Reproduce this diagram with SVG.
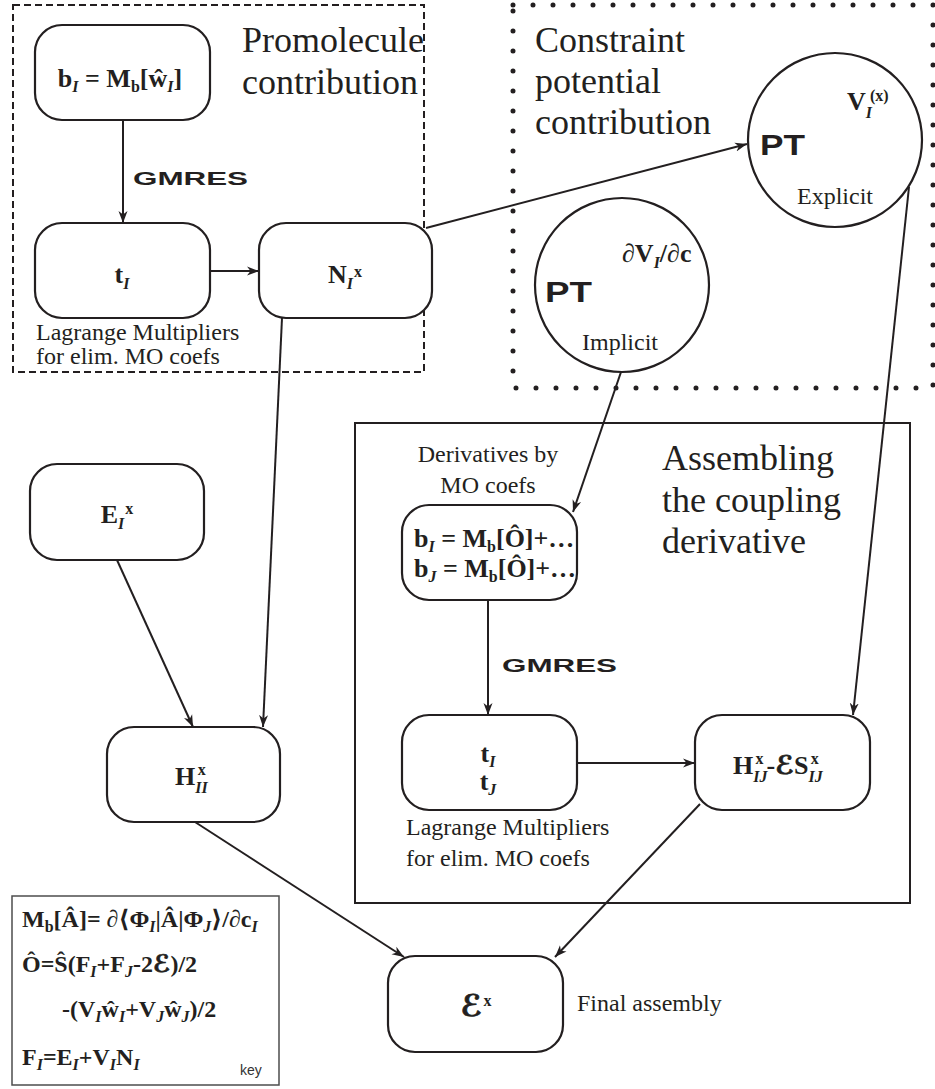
<svg xmlns="http://www.w3.org/2000/svg" width="935" height="1089" viewBox="0 0 935 1089">
<style>
  .bg { fill: #ffffff; }
  .node { fill: #ffffff; stroke: #231f20; stroke-width: 2.2; }
  .edge { fill: none; stroke: #231f20; stroke-width: 2; marker-end: url(#ah); }
  .ser { font-family: "Liberation Serif", "DejaVu Serif", serif; fill: #231f20; }
  .big { font-size: 36px; }
  .small { font-size: 24px; }
  .m { font-family: "Liberation Serif", "DejaVu Serif", serif; font-weight: bold; font-size: 26px; fill: #231f20; }
  .k { font-size: 24px; }
  .sub { font-style: italic; font-size: 16px; }
  .subr { font-size: 16px; }
  .sup { font-size: 16px; }
  .cal { font-family: "DejaVu Sans", sans-serif; font-style: italic; font-weight: bold; stroke: #231f20; stroke-width: 0.7; }
  .gm { font-family: "Liberation Sans", "DejaVu Sans", sans-serif; font-weight: bold; fill: #231f20; }
</style>
<defs>
  <marker id="ah" markerUnits="userSpaceOnUse" markerWidth="13" markerHeight="10" refX="12" refY="5" orient="auto">
    <path d="M0,0.5 L12,5 L0,9.5 L3.5,5 z" fill="#231f20"/>
  </marker>
</defs>
<rect class="bg" x="0" y="0" width="935" height="1089"/>

<!-- group frames -->
<g id="frames">
  <rect x="13" y="5" width="411" height="367" fill="none" stroke="#231f20" stroke-width="2" stroke-dasharray="7 4"/>
  <rect x="513" y="5" width="420" height="383" fill="none" stroke="#231f20" stroke-width="5" stroke-linecap="round" stroke-dasharray="0 20"/>
  <rect x="355" y="423" width="555" height="480" fill="none" stroke="#231f20" stroke-width="2"/>
  <text class="ser big" x="242" y="52">Promolecule</text>
  <text class="ser big" x="242" y="94">contribution</text>
  <text class="ser big" x="535" y="52">Constraint</text>
  <text class="ser big" x="535" y="93">potential</text>
  <text class="ser big" x="535" y="134">contribution</text>
  <text class="ser big" x="662" y="470">Assembling</text>
  <text class="ser big" x="662" y="512">the coupling</text>
  <text class="ser big" x="662" y="553">derivative</text>
</g>

<!-- connectors -->
<g id="connectors">
  <line class="edge" x1="123" y1="120" x2="123" y2="223"/>
  <line class="edge" x1="210" y1="271" x2="259" y2="271"/>
  <line class="edge" x1="426" y1="228" x2="747" y2="144"/>
  <line class="edge" x1="282" y1="318" x2="263" y2="727"/>
  <line class="edge" x1="117" y1="560" x2="193" y2="727"/>
  <line class="edge" x1="195" y1="822" x2="404" y2="957"/>
  <line class="edge" x1="621" y1="372" x2="573" y2="512"/>
  <line class="edge" x1="488" y1="600" x2="488" y2="715"/>
  <line class="edge" x1="909" y1="187" x2="853" y2="715"/>
  <line class="edge" x1="577" y1="763" x2="695" y2="763"/>
  <line class="edge" x1="700" y1="804" x2="555" y2="957"/>
  <text class="gm" x="133" y="185" font-size="18" textLength="115" lengthAdjust="spacingAndGlyphs">GMRES</text>
  <text class="gm" x="502" y="672" font-size="18" textLength="115" lengthAdjust="spacingAndGlyphs">GMRES</text>
</g>

<!-- nodes -->
<g id="node-bI">
  <rect class="node" x="35" y="25" width="175" height="95" rx="27"/>
  <text class="m" x="120" y="87" text-anchor="middle">b<tspan class="sub" dy="5">I</tspan><tspan dy="-5"> = M</tspan><tspan class="subr" dy="5">b</tspan><tspan dy="-5">[ŵ</tspan><tspan class="sub" dy="5">I</tspan><tspan dy="-5">]</tspan></text>
</g>

<g id="node-tI">
  <rect class="node" x="35" y="223" width="175" height="95" rx="27"/>
  <text class="m" x="122" y="283" text-anchor="middle">t<tspan class="sub" dy="6">I</tspan></text>
  <text class="ser small" x="36" y="340">Lagrange Multipliers</text>
  <text class="ser small" x="36" y="364">for elim. MO coefs</text>
</g>

<g id="node-NI">
  <rect class="node" x="259" y="223" width="173" height="95" rx="27"/>
  <text class="m" x="345" y="283" text-anchor="middle">N<tspan class="sub" dy="6">I</tspan><tspan class="sup" dy="-12" dx="1">x</tspan></text>
</g>

<g id="node-explicit">
  <circle class="node" cx="835" cy="140" r="87"/>
  <text class="gm" x="760" y="155" font-size="30" textLength="45" lengthAdjust="spacingAndGlyphs">PT</text>
  <text class="m" x="847" y="110" font-size="23">V<tspan class="sub" dy="8">I</tspan><tspan class="sup" font-size="15" dx="-2" dy="-17">(x)</tspan></text>
  <text class="ser small" x="835" y="204" text-anchor="middle">Explicit</text>
</g>

<g id="node-implicit">
  <circle class="node" cx="622" cy="285" r="87"/>
  <text class="gm" x="545" y="302" font-size="30" textLength="47" lengthAdjust="spacingAndGlyphs">PT</text>
  <text class="m" x="622" y="262" font-size="24">∂V<tspan class="sub" dy="6">I</tspan><tspan dy="-6">/∂c</tspan></text>
  <text class="ser small" x="620" y="350" text-anchor="middle">Implicit</text>
</g>

<g id="node-EI">
  <rect class="node" x="30" y="464" width="174" height="96" rx="27"/>
  <text class="m" x="117" y="523" text-anchor="middle">E<tspan class="sub" dy="6">I</tspan><tspan class="sup" dy="-15" dx="1">x</tspan></text>
</g>

<g id="node-HII">
  <rect class="node" x="107" y="727" width="173" height="95" rx="27"/>
  <text class="m" x="175" y="785">H<tspan class="sub" dy="8">II</tspan><tspan class="sup" dx="-10" dy="-18">x</tspan></text>
</g>

<g id="node-deriv">
  <text class="ser small" x="488" y="462" text-anchor="middle">Derivatives by</text>
  <text class="ser small" x="488" y="493" text-anchor="middle">MO coefs</text>
  <rect class="node" x="402" y="505" width="175" height="95" rx="27"/>
  <text class="m" x="414" y="547" font-size="24">b<tspan class="sub" dy="5">I</tspan><tspan dy="-5"> = M</tspan><tspan class="subr" dy="5">b</tspan><tspan dy="-5">[Ô]+…</tspan></text>
  <text class="m" x="414" y="577" font-size="24">b<tspan class="sub" dy="5">J</tspan><tspan dy="-5"> = M</tspan><tspan class="subr" dy="5">b</tspan><tspan dy="-5">[Ô]+…</tspan></text>
</g>

<g id="node-tIJ">
  <rect class="node" x="402" y="715" width="175" height="95" rx="27"/>
  <text class="m" x="488" y="762" text-anchor="middle">t<tspan class="sub" dy="5">I</tspan></text>
  <text class="m" x="488" y="790" text-anchor="middle">t<tspan class="sub" dy="5">J</tspan></text>
  <text class="ser small" x="406" y="835">Lagrange Multipliers</text>
  <text class="ser small" x="406" y="866">for elim. MO coefs</text>
</g>

<g id="node-HIJ">
  <rect class="node" x="695" y="715" width="175" height="95" rx="27"/>
  <text class="m" x="733" y="774">H<tspan class="sub" dy="8">IJ</tspan><tspan class="sup" dx="-12" dy="-18">x</tspan><tspan dx="3" dy="10">-</tspan><tspan class="cal">ℰ</tspan><tspan>S</tspan><tspan class="sub" dy="8">IJ</tspan><tspan class="sup" dx="-12" dy="-18">x</tspan></text>
</g>

<g id="node-Ex">
  <rect class="node" x="388" y="956" width="175" height="96" rx="27"/>
  <text class="m" x="476" y="1016" text-anchor="middle"><tspan class="cal" font-size="30">ℰ</tspan><tspan class="sup" dy="-10" dx="1">x</tspan></text>
  <text class="ser small" x="577" y="1011">Final assembly</text>
</g>

<g id="key">
  <rect x="12" y="896" width="267" height="189" fill="#ffffff" stroke="#4d4d4d" stroke-width="1.5"/>
  <text class="m k" x="22" y="927">M<tspan class="subr" dy="5">b</tspan><tspan dy="-5">[Â]= ∂⟨Φ</tspan><tspan class="sub" dy="5">I</tspan><tspan dy="-5">|Â|Φ</tspan><tspan class="sub" dy="5">J</tspan><tspan dy="-5">⟩/∂c</tspan><tspan class="sub" dy="5">I</tspan></text>
  <text class="m k" x="22" y="972">Ô=Ŝ(F<tspan class="sub" dy="5">I</tspan><tspan dy="-5">+F</tspan><tspan class="sub" dy="5">J</tspan><tspan dy="-5">-2</tspan><tspan class="cal">ℰ</tspan><tspan>)/2</tspan></text>
  <text class="m k" x="62" y="1017">-(V<tspan class="sub" dy="5">I</tspan><tspan dy="-5">ŵ</tspan><tspan class="sub" dy="5">I</tspan><tspan dy="-5">+V</tspan><tspan class="sub" dy="5">J</tspan><tspan dy="-5">ŵ</tspan><tspan class="sub" dy="5">J</tspan><tspan dy="-5">)/2</tspan></text>
  <text class="m k" x="22" y="1065">F<tspan class="sub" dy="5">I</tspan><tspan dy="-5">=E</tspan><tspan class="sub" dy="5">I</tspan><tspan dy="-5">+V</tspan><tspan class="sub" dy="5">I</tspan><tspan dy="-5">N</tspan><tspan class="sub" dy="5">I</tspan></text>
  <text x="240" y="1075" font-family="Liberation Sans, sans-serif" font-size="14" fill="#333333">key</text>
</g>
</svg>
